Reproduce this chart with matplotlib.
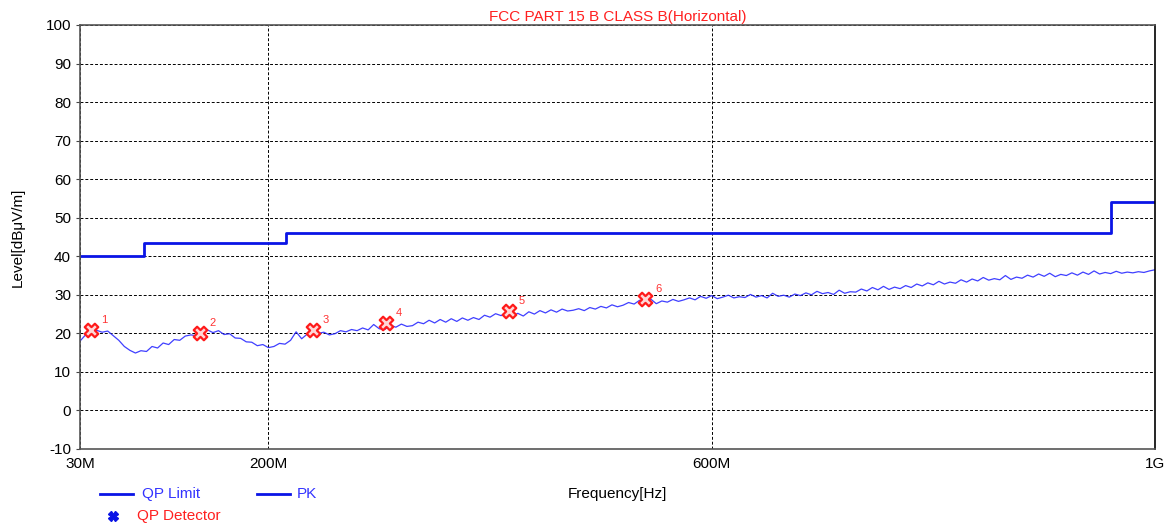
import matplotlib.pyplot as plt
from matplotlib.lines import Line2D
import numpy as np

plt.rcParams['font.family'] = ['Liberation Sans', 'DejaVu Sans']
plt.rcParams['axes.unicode_minus'] = False

# QP limit (FCC Part 15 B class B), step edges in MHz
limit_freq = [30, 88, 88, 216, 216, 960, 960, 1000]
limit_level = [40, 40, 43.5, 43.5, 46, 46, 54, 54]

# PK trace, 5 MHz steps from 30 MHz to 1 GHz
pk_level = [
    18.0, 19.6, 20.4, 20.8, 20.3, 20.6, 19.4, 18.2, 16.6, 15.6,
    14.9, 15.5, 15.3, 16.6, 16.2, 17.5, 17.1, 18.4, 18.2, 19.3,
    19.6, 19.4, 20.3, 20.9, 20.2, 20.7, 19.7, 19.9, 18.8, 18.7,
    17.8, 17.7, 16.8, 17.1, 16.3, 16.6, 17.4, 17.2, 18.2, 20.4,
    18.6, 19.8, 20.5, 20.0, 20.3, 19.6, 19.9, 20.7, 20.4, 21.0,
    20.7, 21.4, 20.9, 22.3, 21.2, 21.0, 22.1, 21.6, 22.4, 21.8,
    22.0, 22.9, 22.5, 23.4, 22.7, 23.6, 22.9, 23.8, 23.1, 24.0,
    23.4, 24.1, 23.6, 24.7, 24.2, 25.1, 24.6, 25.5, 24.5, 25.2,
    24.5, 25.6, 25.0, 25.9, 25.3, 26.1, 25.5, 26.3, 25.8, 26.0,
    26.4, 25.9, 26.7, 26.3, 27.0, 26.6, 27.4, 26.9, 27.3, 28.0,
    27.6, 28.6, 28.1, 28.9, 27.7, 28.4, 28.1, 28.8, 28.3, 28.7,
    29.2, 28.7, 29.6, 29.1, 29.8, 29.0, 29.4, 29.9, 29.2, 29.5,
    29.3, 30.1, 29.4, 29.8, 29.2, 30.4, 29.6, 29.9, 29.4, 30.2,
    29.8, 30.5, 30.0, 30.9, 30.3, 30.6, 30.1, 31.2, 30.4, 30.8,
    30.7, 31.5, 31.0, 31.9, 31.3, 32.2, 31.4, 32.0, 31.6, 32.4,
    31.9, 32.8, 32.3, 33.1, 32.6, 33.5, 32.8, 33.3, 33.0, 33.9,
    33.3, 34.1, 33.6, 34.5, 33.8, 34.2, 33.9, 35.0, 34.0, 34.6,
    34.3, 35.1, 34.6, 35.4, 34.8, 35.6, 34.7, 35.3, 35.0, 35.7,
    35.1, 35.9, 35.3, 36.2, 35.4, 35.8, 35.5, 36.1, 35.6, 35.9,
    35.7, 36.0, 35.8, 36.2, 36.5,
]
pk_freq = np.arange(30, 1001, 5)

# QP detector points
qp_freq = [40, 138, 240, 306, 417, 540]
qp_level = [20.8, 20.0, 20.8, 22.7, 25.7, 29.0]
qp_labels = ['1', '2', '3', '4', '5', '6']

xticks = [30, 200, 600, 1000]
xtick_labels = ['30M', '200M', '600M', '1G']

fig = plt.figure(figsize=(11.74, 5.26), dpi=100)
ax = fig.add_axes([80 / 1174, 1 - 449 / 526, 1075 / 1174, 424 / 526])

ax.plot(pk_freq, pk_level, color='#2b2bff', lw=0.9, alpha=0.9)
ax.plot(limit_freq, limit_level, color='#0a14e6', lw=2.0)
ax.scatter(qp_freq, qp_level, marker='X', s=95, facecolor='#ffd6d6',
           edgecolor='#ff1a1a', linewidth=1.6, zorder=5)
for f, v, t in zip(qp_freq, qp_level, qp_labels):
    ax.annotate(t, (f, v), xytext=(7, 5), textcoords='offset points',
                color='#ff3333', fontsize=8)

ax.set_xlim(30, 1000)
ax.set_ylim(-10, 100)
ax.set_yticks(range(-10, 101, 10))
ax.set_xticks(xticks)
ax.set_xticklabels(xtick_labels)
ax.tick_params(axis='both', labelsize=11, length=3, color='#444444')
ax.tick_params(axis='x', pad=6, length=0)
ax.grid(True, color='black', ls=(0, (3, 2)), lw=0.7)

for side in ['left', 'bottom', 'top']:
    ax.spines[side].set_color('#555555')
    ax.spines[side].set_linewidth(1.2)
ax.spines['right'].set_color('black')
ax.spines['right'].set_linewidth(1.2)

ax.set_title('FCC PART 15 B CLASS B(Horizontal)', color='#ff2020',
             fontsize=11, pad=3)
fig.text(18 / 1174, 1 - 237 / 526, 'Level[dBμV/m]', rotation=90,
         ha='center', va='center', fontsize=11)
fig.text(617 / 1174, 1 - 494 / 526, 'Frequency[Hz]', ha='center',
         va='center', fontsize=11)

# legend drawn by hand below the axes
ly = 1 - 494 / 526
fig.add_artist(Line2D([100 / 1174, 133 / 1174], [ly, ly], color='#0a14e6', lw=2))
fig.text(142 / 1174, ly, 'QP Limit', color='#3333ff', va='center', fontsize=11)
fig.add_artist(Line2D([257 / 1174, 290 / 1174], [ly, ly], color='#0a14e6', lw=2))
fig.text(297 / 1174, ly, 'PK', color='#3333ff', va='center', fontsize=11)
ly2 = 1 - 516 / 526
fig.add_artist(Line2D([113 / 1174], [ly2], marker='X', color='#0a14e6',
                      markersize=7, lw=0))
fig.text(137 / 1174, ly2, 'QP Detector', color='#ff2020', va='center', fontsize=11)

fig.savefig('out.png', dpi=100)
